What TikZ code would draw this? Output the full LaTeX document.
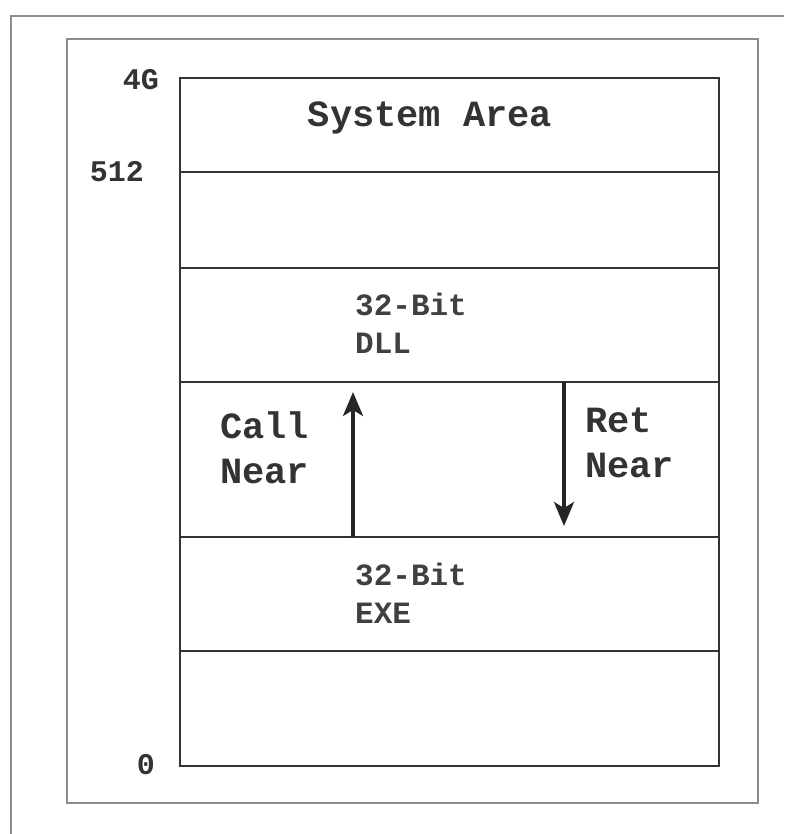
\documentclass[tikz,border=0pt]{standalone}
\usepackage{fontspec}
\setmonofont{Liberation Mono}
\usetikzlibrary{arrows.meta}
\begin{document}
\begin{tikzpicture}[x=1pt,y=-1pt,
  frame/.style={draw=black!45,line width=1.6pt},
  mem/.style={draw=black!80,line width=1.8pt},
  addr/.style={inner sep=0pt,font=\fontsize{30}{30}\selectfont\ttfamily\bfseries,text=black!80},
  big/.style={inner sep=0pt,font=\fontsize{37}{37}\selectfont\ttfamily\bfseries,text=black!80},
  small/.style={inner sep=0pt,font=\fontsize{31}{31}\selectfont\ttfamily\bfseries,text=black!75},
  arr/.style={draw=black!85,line width=3.4pt,-{Stealth[length=24pt,width=20pt,inset=6pt]}}]
\useasboundingbox (0,0) rectangle (784,834);
\draw[frame] (11,834) -- (11,16) -- (784,16);
\draw[frame] (67,39) rectangle (758,803);
\draw[mem] (180,78) rectangle (719,766);
\foreach \yy in {172,268,382,537,651} \draw[mem] (180,\yy) -- (719,\yy);
\node[addr,anchor=base east] (a4g) at (159,90) {4G};
\node[addr,anchor=base east] (a512) at (144,182) {512};
\node[addr,anchor=base east] (a0) at (155,774) {0};
\node[big,anchor=base] (sys) at (430,127) {System Area};
\node[small,anchor=base west] (d1) at (355,315) {32-Bit};
\node[small,anchor=base west] (d2) at (355,353) {DLL};
\node[small,anchor=base west] (e1) at (355,585) {32-Bit};
\node[small,anchor=base west] (e2) at (355,623) {EXE};
\node[big,anchor=base west] (c1) at (220,438) {Call};
\node[big,anchor=base west] (c2) at (220,483) {Near};
\node[big,anchor=base west] (r1) at (585,432) {Ret};
\node[big,anchor=base west] (r2) at (585,477) {Near};
\coordinate (ua) at (353,537);
\coordinate (ub) at (353,392);
\coordinate (da) at (564,382);
\coordinate (db) at (564,526);
\draw[arr] (ua) -- (ub);
\draw[arr] (da) -- (db);
\end{tikzpicture}
\end{document}
